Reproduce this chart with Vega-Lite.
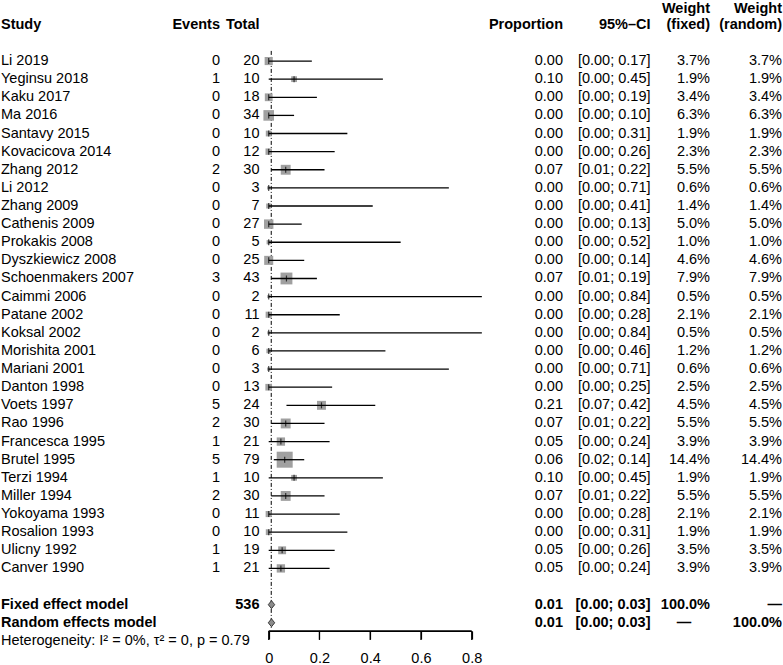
{
  "$schema": "https://vega.github.io/schema/vega-lite/v6.json",
  "width": 783,
  "height": 665,
  "autosize": "none",
  "padding": 0,
  "config": {
    "view": {"stroke": null},
    "axis": {"grid": false, "domain": true, "ticks": true, "domainColor": "black", "tickColor": "black", "domainWidth": 1.2, "tickWidth": 1.2, "tickSize": 8, "labelFont": "Liberation Sans", "labelFontSize": 14.5, "labelColor": "black", "labelFlush": false, "labelPadding": 12, "title": null}
  },
  "datasets": {
    "studies": [
      {"row": "Li 2019", "events": 0, "total": 20, "prop": "0.00", "ci": "[0.00; 0.17]", "wf": "3.7%", "wr": "3.7%", "p": 0.0, "lo": 0.0, "hi": 0.17, "w": 3.7},
      {"row": "Yeginsu 2018", "events": 1, "total": 10, "prop": "0.10", "ci": "[0.00; 0.45]", "wf": "1.9%", "wr": "1.9%", "p": 0.10, "lo": 0.0, "hi": 0.45, "w": 1.9},
      {"row": "Kaku 2017", "events": 0, "total": 18, "prop": "0.00", "ci": "[0.00; 0.19]", "wf": "3.4%", "wr": "3.4%", "p": 0.0, "lo": 0.0, "hi": 0.19, "w": 3.4},
      {"row": "Ma 2016", "events": 0, "total": 34, "prop": "0.00", "ci": "[0.00; 0.10]", "wf": "6.3%", "wr": "6.3%", "p": 0.0, "lo": 0.0, "hi": 0.10, "w": 6.3},
      {"row": "Santavy 2015", "events": 0, "total": 10, "prop": "0.00", "ci": "[0.00; 0.31]", "wf": "1.9%", "wr": "1.9%", "p": 0.0, "lo": 0.0, "hi": 0.31, "w": 1.9},
      {"row": "Kovacicova 2014", "events": 0, "total": 12, "prop": "0.00", "ci": "[0.00; 0.26]", "wf": "2.3%", "wr": "2.3%", "p": 0.0, "lo": 0.0, "hi": 0.26, "w": 2.3},
      {"row": "Zhang 2012", "events": 2, "total": 30, "prop": "0.07", "ci": "[0.01; 0.22]", "wf": "5.5%", "wr": "5.5%", "p": 0.067, "lo": 0.01, "hi": 0.22, "w": 5.5},
      {"row": "Li 2012", "events": 0, "total": 3, "prop": "0.00", "ci": "[0.00; 0.71]", "wf": "0.6%", "wr": "0.6%", "p": 0.0, "lo": 0.0, "hi": 0.71, "w": 0.6},
      {"row": "Zhang 2009", "events": 0, "total": 7, "prop": "0.00", "ci": "[0.00; 0.41]", "wf": "1.4%", "wr": "1.4%", "p": 0.0, "lo": 0.0, "hi": 0.41, "w": 1.4},
      {"row": "Cathenis 2009", "events": 0, "total": 27, "prop": "0.00", "ci": "[0.00; 0.13]", "wf": "5.0%", "wr": "5.0%", "p": 0.0, "lo": 0.0, "hi": 0.13, "w": 5.0},
      {"row": "Prokakis 2008", "events": 0, "total": 5, "prop": "0.00", "ci": "[0.00; 0.52]", "wf": "1.0%", "wr": "1.0%", "p": 0.0, "lo": 0.0, "hi": 0.52, "w": 1.0},
      {"row": "Dyszkiewicz 2008", "events": 0, "total": 25, "prop": "0.00", "ci": "[0.00; 0.14]", "wf": "4.6%", "wr": "4.6%", "p": 0.0, "lo": 0.0, "hi": 0.14, "w": 4.6},
      {"row": "Schoenmakers 2007", "events": 3, "total": 43, "prop": "0.07", "ci": "[0.01; 0.19]", "wf": "7.9%", "wr": "7.9%", "p": 0.07, "lo": 0.01, "hi": 0.19, "w": 7.9},
      {"row": "Caimmi 2006", "events": 0, "total": 2, "prop": "0.00", "ci": "[0.00; 0.84]", "wf": "0.5%", "wr": "0.5%", "p": 0.0, "lo": 0.0, "hi": 0.84, "w": 0.5},
      {"row": "Patane 2002", "events": 0, "total": 11, "prop": "0.00", "ci": "[0.00; 0.28]", "wf": "2.1%", "wr": "2.1%", "p": 0.0, "lo": 0.0, "hi": 0.28, "w": 2.1},
      {"row": "Koksal 2002", "events": 0, "total": 2, "prop": "0.00", "ci": "[0.00; 0.84]", "wf": "0.5%", "wr": "0.5%", "p": 0.0, "lo": 0.0, "hi": 0.84, "w": 0.5},
      {"row": "Morishita 2001", "events": 0, "total": 6, "prop": "0.00", "ci": "[0.00; 0.46]", "wf": "1.2%", "wr": "1.2%", "p": 0.0, "lo": 0.0, "hi": 0.46, "w": 1.2},
      {"row": "Mariani 2001", "events": 0, "total": 3, "prop": "0.00", "ci": "[0.00; 0.71]", "wf": "0.6%", "wr": "0.6%", "p": 0.0, "lo": 0.0, "hi": 0.71, "w": 0.6},
      {"row": "Danton 1998", "events": 0, "total": 13, "prop": "0.00", "ci": "[0.00; 0.25]", "wf": "2.5%", "wr": "2.5%", "p": 0.0, "lo": 0.0, "hi": 0.25, "w": 2.5},
      {"row": "Voets 1997", "events": 5, "total": 24, "prop": "0.21", "ci": "[0.07; 0.42]", "wf": "4.5%", "wr": "4.5%", "p": 0.208, "lo": 0.07, "hi": 0.42, "w": 4.5},
      {"row": "Rao 1996", "events": 2, "total": 30, "prop": "0.07", "ci": "[0.01; 0.22]", "wf": "5.5%", "wr": "5.5%", "p": 0.067, "lo": 0.01, "hi": 0.22, "w": 5.5},
      {"row": "Francesca 1995", "events": 1, "total": 21, "prop": "0.05", "ci": "[0.00; 0.24]", "wf": "3.9%", "wr": "3.9%", "p": 0.048, "lo": 0.0, "hi": 0.24, "w": 3.9},
      {"row": "Brutel 1995", "events": 5, "total": 79, "prop": "0.06", "ci": "[0.02; 0.14]", "wf": "14.4%", "wr": "14.4%", "p": 0.063, "lo": 0.02, "hi": 0.14, "w": 14.4},
      {"row": "Terzi 1994", "events": 1, "total": 10, "prop": "0.10", "ci": "[0.00; 0.45]", "wf": "1.9%", "wr": "1.9%", "p": 0.10, "lo": 0.0, "hi": 0.45, "w": 1.9},
      {"row": "Miller 1994", "events": 2, "total": 30, "prop": "0.07", "ci": "[0.01; 0.22]", "wf": "5.5%", "wr": "5.5%", "p": 0.067, "lo": 0.01, "hi": 0.22, "w": 5.5},
      {"row": "Yokoyama 1993", "events": 0, "total": 11, "prop": "0.00", "ci": "[0.00; 0.28]", "wf": "2.1%", "wr": "2.1%", "p": 0.0, "lo": 0.0, "hi": 0.28, "w": 2.1},
      {"row": "Rosalion 1993", "events": 0, "total": 10, "prop": "0.00", "ci": "[0.00; 0.31]", "wf": "1.9%", "wr": "1.9%", "p": 0.0, "lo": 0.0, "hi": 0.31, "w": 1.9},
      {"row": "Ulicny 1992", "events": 1, "total": 19, "prop": "0.05", "ci": "[0.00; 0.26]", "wf": "3.5%", "wr": "3.5%", "p": 0.053, "lo": 0.0, "hi": 0.26, "w": 3.5},
      {"row": "Canver 1990", "events": 1, "total": 21, "prop": "0.05", "ci": "[0.00; 0.24]", "wf": "3.9%", "wr": "3.9%", "p": 0.048, "lo": 0.0, "hi": 0.24, "w": 3.9}
    ],
    "cells": [
      {"row": "h0", "col": "wf0", "label": "Weight"},
      {"row": "h0", "col": "wr0", "label": "Weight"},
      {"row": "h1", "col": "study", "label": "Study"},
      {"row": "h1", "col": "events", "label": "Events"},
      {"row": "h1", "col": "total", "label": "Total"},
      {"row": "h1", "col": "prop", "label": "Proportion"},
      {"row": "h1", "col": "ci", "label": "95%–CI"},
      {"row": "h1", "col": "wf", "label": "(fixed)"},
      {"row": "h1", "col": "wr", "label": "(random)"},
      {"row": "Fixed effect model", "col": "study", "label": "Fixed effect model"},
      {"row": "Fixed effect model", "col": "total", "label": "536"},
      {"row": "Fixed effect model", "col": "prop", "label": "0.01"},
      {"row": "Fixed effect model", "col": "ci", "label": "[0.00; 0.03]"},
      {"row": "Fixed effect model", "col": "wf", "label": "100.0%"},
      {"row": "Fixed effect model", "col": "wr", "label": "—"},
      {"row": "Random effects model", "col": "study", "label": "Random effects model"},
      {"row": "Random effects model", "col": "prop", "label": "0.01"},
      {"row": "Random effects model", "col": "ci", "label": "[0.00; 0.03]"},
      {"row": "Random effects model", "col": "wfdash", "label": "—"},
      {"row": "Random effects model", "col": "wr", "label": "100.0%"},
      {"row": "het", "col": "het", "label": "Heterogeneity: I² = 0%, τ² = 0, p = 0.79"}
    ],
    "models": [
      {"row": "Fixed effect model", "est": 0.011, "lo": 0.0, "hi": 0.03},
      {"row": "Random effects model", "est": 0.011, "lo": 0.0, "hi": 0.03}
    ],
    "refline": [
      {"top": "gap1", "bottom": "Random effects model", "est": 0.01}
    ],
    "axisline": [
      {"start": 0, "end": 0.8, "row": "het"}
    ],
    "axisticks": [
      {"v": 0, "row": "het"}, {"v": 0.2, "row": "het"}, {"v": 0.4, "row": "het"}, {"v": 0.6, "row": "het"}, {"v": 0.8, "row": "het"}
    ]
  },
  "resolve": {"scale": {"x": "independent"}},
  "layer": [
    {
      "data": {"name": "studies"},
      "mark": {"type": "text", "align": "left", "baseline": "middle", "font": "Liberation Sans", "fontSize": 14.5, "color": "black"},
      "encoding": {
        "x": {"datum": "study", "type": "nominal", "scale": {"type": "point", "domain": ["study"], "range": [1, 1], "padding": 0}, "axis": null},
        "y": {"field": "row", "type": "nominal", "scale": {"type": "point", "domain": ["h0", "h1", "gap1", "Li 2019", "Yeginsu 2018", "Kaku 2017", "Ma 2016", "Santavy 2015", "Kovacicova 2014", "Zhang 2012", "Li 2012", "Zhang 2009", "Cathenis 2009", "Prokakis 2008", "Dyszkiewicz 2008", "Schoenmakers 2007", "Caimmi 2006", "Patane 2002", "Koksal 2002", "Morishita 2001", "Mariani 2001", "Danton 1998", "Voets 1997", "Rao 1996", "Francesca 1995", "Brutel 1995", "Terzi 1994", "Miller 1994", "Yokoyama 1993", "Rosalion 1993", "Ulicny 1992", "Canver 1990", "gap2", "Fixed effect model", "Random effects model", "het"], "range": [6.68, 640.9], "padding": 0}, "axis": null},
        "text": {"field": "row", "type": "nominal"}
      }
    },
    {
      "data": {"name": "cells"},
      "transform": [{"filter": "datum.col == 'het'"}],
      "mark": {"type": "text", "align": "left", "baseline": "middle", "font": "Liberation Sans", "fontSize": 14.5, "color": "black"},
      "encoding": {
        "x": {"datum": "study", "type": "nominal", "scale": {"type": "point", "domain": ["study"], "range": [1, 1], "padding": 0}, "axis": null},
        "y": {"field": "row", "type": "nominal", "scale": {"type": "point", "domain": ["h0", "h1", "gap1", "Li 2019", "Yeginsu 2018", "Kaku 2017", "Ma 2016", "Santavy 2015", "Kovacicova 2014", "Zhang 2012", "Li 2012", "Zhang 2009", "Cathenis 2009", "Prokakis 2008", "Dyszkiewicz 2008", "Schoenmakers 2007", "Caimmi 2006", "Patane 2002", "Koksal 2002", "Morishita 2001", "Mariani 2001", "Danton 1998", "Voets 1997", "Rao 1996", "Francesca 1995", "Brutel 1995", "Terzi 1994", "Miller 1994", "Yokoyama 1993", "Rosalion 1993", "Ulicny 1992", "Canver 1990", "gap2", "Fixed effect model", "Random effects model", "het"], "range": [6.68, 640.9], "padding": 0}, "axis": null},
        "text": {"field": "label", "type": "nominal"}
      }
    },
    {
      "data": {"name": "cells"},
      "transform": [{"filter": "datum.col == 'study'"}],
      "mark": {"type": "text", "align": "left", "baseline": "middle", "font": "Liberation Sans", "fontSize": 14.5, "color": "black", "fontWeight": "bold"},
      "encoding": {
        "x": {"datum": "study", "type": "nominal", "scale": {"type": "point", "domain": ["study"], "range": [1, 1], "padding": 0}, "axis": null},
        "y": {"field": "row", "type": "nominal", "scale": {"type": "point", "domain": ["h0", "h1", "gap1", "Li 2019", "Yeginsu 2018", "Kaku 2017", "Ma 2016", "Santavy 2015", "Kovacicova 2014", "Zhang 2012", "Li 2012", "Zhang 2009", "Cathenis 2009", "Prokakis 2008", "Dyszkiewicz 2008", "Schoenmakers 2007", "Caimmi 2006", "Patane 2002", "Koksal 2002", "Morishita 2001", "Mariani 2001", "Danton 1998", "Voets 1997", "Rao 1996", "Francesca 1995", "Brutel 1995", "Terzi 1994", "Miller 1994", "Yokoyama 1993", "Rosalion 1993", "Ulicny 1992", "Canver 1990", "gap2", "Fixed effect model", "Random effects model", "het"], "range": [6.68, 640.9], "padding": 0}, "axis": null},
        "text": {"field": "label", "type": "nominal"}
      }
    },
    {
      "data": {"name": "studies"},
      "mark": {"type": "text", "align": "right", "baseline": "middle", "font": "Liberation Sans", "fontSize": 14.5, "color": "black"},
      "encoding": {
        "x": {"datum": "events", "type": "nominal", "scale": {"type": "point", "domain": ["events"], "range": [220, 220], "padding": 0}, "axis": null},
        "y": {"field": "row", "type": "nominal", "scale": {"type": "point", "domain": ["h0", "h1", "gap1", "Li 2019", "Yeginsu 2018", "Kaku 2017", "Ma 2016", "Santavy 2015", "Kovacicova 2014", "Zhang 2012", "Li 2012", "Zhang 2009", "Cathenis 2009", "Prokakis 2008", "Dyszkiewicz 2008", "Schoenmakers 2007", "Caimmi 2006", "Patane 2002", "Koksal 2002", "Morishita 2001", "Mariani 2001", "Danton 1998", "Voets 1997", "Rao 1996", "Francesca 1995", "Brutel 1995", "Terzi 1994", "Miller 1994", "Yokoyama 1993", "Rosalion 1993", "Ulicny 1992", "Canver 1990", "gap2", "Fixed effect model", "Random effects model", "het"], "range": [6.68, 640.9], "padding": 0}, "axis": null},
        "text": {"field": "events", "type": "nominal"}
      }
    },
    {
      "data": {"name": "cells"},
      "transform": [{"filter": "datum.col == 'events'"}],
      "mark": {"type": "text", "align": "right", "baseline": "middle", "font": "Liberation Sans", "fontSize": 14.5, "color": "black", "fontWeight": "bold"},
      "encoding": {
        "x": {"datum": "events", "type": "nominal", "scale": {"type": "point", "domain": ["events"], "range": [220, 220], "padding": 0}, "axis": null},
        "y": {"field": "row", "type": "nominal", "scale": {"type": "point", "domain": ["h0", "h1", "gap1", "Li 2019", "Yeginsu 2018", "Kaku 2017", "Ma 2016", "Santavy 2015", "Kovacicova 2014", "Zhang 2012", "Li 2012", "Zhang 2009", "Cathenis 2009", "Prokakis 2008", "Dyszkiewicz 2008", "Schoenmakers 2007", "Caimmi 2006", "Patane 2002", "Koksal 2002", "Morishita 2001", "Mariani 2001", "Danton 1998", "Voets 1997", "Rao 1996", "Francesca 1995", "Brutel 1995", "Terzi 1994", "Miller 1994", "Yokoyama 1993", "Rosalion 1993", "Ulicny 1992", "Canver 1990", "gap2", "Fixed effect model", "Random effects model", "het"], "range": [6.68, 640.9], "padding": 0}, "axis": null},
        "text": {"field": "label", "type": "nominal"}
      }
    },
    {
      "data": {"name": "studies"},
      "mark": {"type": "text", "align": "right", "baseline": "middle", "font": "Liberation Sans", "fontSize": 14.5, "color": "black"},
      "encoding": {
        "x": {"datum": "total", "type": "nominal", "scale": {"type": "point", "domain": ["total"], "range": [259.5, 259.5], "padding": 0}, "axis": null},
        "y": {"field": "row", "type": "nominal", "scale": {"type": "point", "domain": ["h0", "h1", "gap1", "Li 2019", "Yeginsu 2018", "Kaku 2017", "Ma 2016", "Santavy 2015", "Kovacicova 2014", "Zhang 2012", "Li 2012", "Zhang 2009", "Cathenis 2009", "Prokakis 2008", "Dyszkiewicz 2008", "Schoenmakers 2007", "Caimmi 2006", "Patane 2002", "Koksal 2002", "Morishita 2001", "Mariani 2001", "Danton 1998", "Voets 1997", "Rao 1996", "Francesca 1995", "Brutel 1995", "Terzi 1994", "Miller 1994", "Yokoyama 1993", "Rosalion 1993", "Ulicny 1992", "Canver 1990", "gap2", "Fixed effect model", "Random effects model", "het"], "range": [6.68, 640.9], "padding": 0}, "axis": null},
        "text": {"field": "total", "type": "nominal"}
      }
    },
    {
      "data": {"name": "cells"},
      "transform": [{"filter": "datum.col == 'total'"}],
      "mark": {"type": "text", "align": "right", "baseline": "middle", "font": "Liberation Sans", "fontSize": 14.5, "color": "black", "fontWeight": "bold"},
      "encoding": {
        "x": {"datum": "total", "type": "nominal", "scale": {"type": "point", "domain": ["total"], "range": [259.5, 259.5], "padding": 0}, "axis": null},
        "y": {"field": "row", "type": "nominal", "scale": {"type": "point", "domain": ["h0", "h1", "gap1", "Li 2019", "Yeginsu 2018", "Kaku 2017", "Ma 2016", "Santavy 2015", "Kovacicova 2014", "Zhang 2012", "Li 2012", "Zhang 2009", "Cathenis 2009", "Prokakis 2008", "Dyszkiewicz 2008", "Schoenmakers 2007", "Caimmi 2006", "Patane 2002", "Koksal 2002", "Morishita 2001", "Mariani 2001", "Danton 1998", "Voets 1997", "Rao 1996", "Francesca 1995", "Brutel 1995", "Terzi 1994", "Miller 1994", "Yokoyama 1993", "Rosalion 1993", "Ulicny 1992", "Canver 1990", "gap2", "Fixed effect model", "Random effects model", "het"], "range": [6.68, 640.9], "padding": 0}, "axis": null},
        "text": {"field": "label", "type": "nominal"}
      }
    },
    {
      "data": {"name": "studies"},
      "mark": {"type": "text", "align": "right", "baseline": "middle", "font": "Liberation Sans", "fontSize": 14.5, "color": "black"},
      "encoding": {
        "x": {"datum": "prop", "type": "nominal", "scale": {"type": "point", "domain": ["prop"], "range": [563, 563], "padding": 0}, "axis": null},
        "y": {"field": "row", "type": "nominal", "scale": {"type": "point", "domain": ["h0", "h1", "gap1", "Li 2019", "Yeginsu 2018", "Kaku 2017", "Ma 2016", "Santavy 2015", "Kovacicova 2014", "Zhang 2012", "Li 2012", "Zhang 2009", "Cathenis 2009", "Prokakis 2008", "Dyszkiewicz 2008", "Schoenmakers 2007", "Caimmi 2006", "Patane 2002", "Koksal 2002", "Morishita 2001", "Mariani 2001", "Danton 1998", "Voets 1997", "Rao 1996", "Francesca 1995", "Brutel 1995", "Terzi 1994", "Miller 1994", "Yokoyama 1993", "Rosalion 1993", "Ulicny 1992", "Canver 1990", "gap2", "Fixed effect model", "Random effects model", "het"], "range": [6.68, 640.9], "padding": 0}, "axis": null},
        "text": {"field": "prop", "type": "nominal"}
      }
    },
    {
      "data": {"name": "cells"},
      "transform": [{"filter": "datum.col == 'prop'"}],
      "mark": {"type": "text", "align": "right", "baseline": "middle", "font": "Liberation Sans", "fontSize": 14.5, "color": "black", "fontWeight": "bold"},
      "encoding": {
        "x": {"datum": "prop", "type": "nominal", "scale": {"type": "point", "domain": ["prop"], "range": [563, 563], "padding": 0}, "axis": null},
        "y": {"field": "row", "type": "nominal", "scale": {"type": "point", "domain": ["h0", "h1", "gap1", "Li 2019", "Yeginsu 2018", "Kaku 2017", "Ma 2016", "Santavy 2015", "Kovacicova 2014", "Zhang 2012", "Li 2012", "Zhang 2009", "Cathenis 2009", "Prokakis 2008", "Dyszkiewicz 2008", "Schoenmakers 2007", "Caimmi 2006", "Patane 2002", "Koksal 2002", "Morishita 2001", "Mariani 2001", "Danton 1998", "Voets 1997", "Rao 1996", "Francesca 1995", "Brutel 1995", "Terzi 1994", "Miller 1994", "Yokoyama 1993", "Rosalion 1993", "Ulicny 1992", "Canver 1990", "gap2", "Fixed effect model", "Random effects model", "het"], "range": [6.68, 640.9], "padding": 0}, "axis": null},
        "text": {"field": "label", "type": "nominal"}
      }
    },
    {
      "data": {"name": "studies"},
      "mark": {"type": "text", "align": "right", "baseline": "middle", "font": "Liberation Sans", "fontSize": 14.5, "color": "black"},
      "encoding": {
        "x": {"datum": "ci", "type": "nominal", "scale": {"type": "point", "domain": ["ci"], "range": [650.5, 650.5], "padding": 0}, "axis": null},
        "y": {"field": "row", "type": "nominal", "scale": {"type": "point", "domain": ["h0", "h1", "gap1", "Li 2019", "Yeginsu 2018", "Kaku 2017", "Ma 2016", "Santavy 2015", "Kovacicova 2014", "Zhang 2012", "Li 2012", "Zhang 2009", "Cathenis 2009", "Prokakis 2008", "Dyszkiewicz 2008", "Schoenmakers 2007", "Caimmi 2006", "Patane 2002", "Koksal 2002", "Morishita 2001", "Mariani 2001", "Danton 1998", "Voets 1997", "Rao 1996", "Francesca 1995", "Brutel 1995", "Terzi 1994", "Miller 1994", "Yokoyama 1993", "Rosalion 1993", "Ulicny 1992", "Canver 1990", "gap2", "Fixed effect model", "Random effects model", "het"], "range": [6.68, 640.9], "padding": 0}, "axis": null},
        "text": {"field": "ci", "type": "nominal"}
      }
    },
    {
      "data": {"name": "cells"},
      "transform": [{"filter": "datum.col == 'ci'"}],
      "mark": {"type": "text", "align": "right", "baseline": "middle", "font": "Liberation Sans", "fontSize": 14.5, "color": "black", "fontWeight": "bold"},
      "encoding": {
        "x": {"datum": "ci", "type": "nominal", "scale": {"type": "point", "domain": ["ci"], "range": [650.5, 650.5], "padding": 0}, "axis": null},
        "y": {"field": "row", "type": "nominal", "scale": {"type": "point", "domain": ["h0", "h1", "gap1", "Li 2019", "Yeginsu 2018", "Kaku 2017", "Ma 2016", "Santavy 2015", "Kovacicova 2014", "Zhang 2012", "Li 2012", "Zhang 2009", "Cathenis 2009", "Prokakis 2008", "Dyszkiewicz 2008", "Schoenmakers 2007", "Caimmi 2006", "Patane 2002", "Koksal 2002", "Morishita 2001", "Mariani 2001", "Danton 1998", "Voets 1997", "Rao 1996", "Francesca 1995", "Brutel 1995", "Terzi 1994", "Miller 1994", "Yokoyama 1993", "Rosalion 1993", "Ulicny 1992", "Canver 1990", "gap2", "Fixed effect model", "Random effects model", "het"], "range": [6.68, 640.9], "padding": 0}, "axis": null},
        "text": {"field": "label", "type": "nominal"}
      }
    },
    {
      "data": {"name": "studies"},
      "mark": {"type": "text", "align": "right", "baseline": "middle", "font": "Liberation Sans", "fontSize": 14.5, "color": "black"},
      "encoding": {
        "x": {"datum": "wf", "type": "nominal", "scale": {"type": "point", "domain": ["wf"], "range": [710, 710], "padding": 0}, "axis": null},
        "y": {"field": "row", "type": "nominal", "scale": {"type": "point", "domain": ["h0", "h1", "gap1", "Li 2019", "Yeginsu 2018", "Kaku 2017", "Ma 2016", "Santavy 2015", "Kovacicova 2014", "Zhang 2012", "Li 2012", "Zhang 2009", "Cathenis 2009", "Prokakis 2008", "Dyszkiewicz 2008", "Schoenmakers 2007", "Caimmi 2006", "Patane 2002", "Koksal 2002", "Morishita 2001", "Mariani 2001", "Danton 1998", "Voets 1997", "Rao 1996", "Francesca 1995", "Brutel 1995", "Terzi 1994", "Miller 1994", "Yokoyama 1993", "Rosalion 1993", "Ulicny 1992", "Canver 1990", "gap2", "Fixed effect model", "Random effects model", "het"], "range": [6.68, 640.9], "padding": 0}, "axis": null},
        "text": {"field": "wf", "type": "nominal"}
      }
    },
    {
      "data": {"name": "cells"},
      "transform": [{"filter": "datum.col == 'wf'"}],
      "mark": {"type": "text", "align": "right", "baseline": "middle", "font": "Liberation Sans", "fontSize": 14.5, "color": "black", "fontWeight": "bold"},
      "encoding": {
        "x": {"datum": "wf", "type": "nominal", "scale": {"type": "point", "domain": ["wf"], "range": [710, 710], "padding": 0}, "axis": null},
        "y": {"field": "row", "type": "nominal", "scale": {"type": "point", "domain": ["h0", "h1", "gap1", "Li 2019", "Yeginsu 2018", "Kaku 2017", "Ma 2016", "Santavy 2015", "Kovacicova 2014", "Zhang 2012", "Li 2012", "Zhang 2009", "Cathenis 2009", "Prokakis 2008", "Dyszkiewicz 2008", "Schoenmakers 2007", "Caimmi 2006", "Patane 2002", "Koksal 2002", "Morishita 2001", "Mariani 2001", "Danton 1998", "Voets 1997", "Rao 1996", "Francesca 1995", "Brutel 1995", "Terzi 1994", "Miller 1994", "Yokoyama 1993", "Rosalion 1993", "Ulicny 1992", "Canver 1990", "gap2", "Fixed effect model", "Random effects model", "het"], "range": [6.68, 640.9], "padding": 0}, "axis": null},
        "text": {"field": "label", "type": "nominal"}
      }
    },
    {
      "data": {"name": "cells"},
      "transform": [{"filter": "datum.col == 'wf0'"}],
      "mark": {"type": "text", "align": "right", "baseline": "middle", "font": "Liberation Sans", "fontSize": 14.5, "color": "black", "fontWeight": "bold", "yOffset": 2},
      "encoding": {
        "x": {"datum": "wf0", "type": "nominal", "scale": {"type": "point", "domain": ["wf0"], "range": [710, 710], "padding": 0}, "axis": null},
        "y": {"field": "row", "type": "nominal", "scale": {"type": "point", "domain": ["h0", "h1", "gap1", "Li 2019", "Yeginsu 2018", "Kaku 2017", "Ma 2016", "Santavy 2015", "Kovacicova 2014", "Zhang 2012", "Li 2012", "Zhang 2009", "Cathenis 2009", "Prokakis 2008", "Dyszkiewicz 2008", "Schoenmakers 2007", "Caimmi 2006", "Patane 2002", "Koksal 2002", "Morishita 2001", "Mariani 2001", "Danton 1998", "Voets 1997", "Rao 1996", "Francesca 1995", "Brutel 1995", "Terzi 1994", "Miller 1994", "Yokoyama 1993", "Rosalion 1993", "Ulicny 1992", "Canver 1990", "gap2", "Fixed effect model", "Random effects model", "het"], "range": [6.68, 640.9], "padding": 0}, "axis": null},
        "text": {"field": "label", "type": "nominal"}
      }
    },
    {
      "data": {"name": "cells"},
      "transform": [{"filter": "datum.col == 'wfdash'"}],
      "mark": {"type": "text", "align": "center", "baseline": "middle", "font": "Liberation Sans", "fontSize": 14.5, "color": "black", "fontWeight": "bold"},
      "encoding": {
        "x": {"datum": "wfdash", "type": "nominal", "scale": {"type": "point", "domain": ["wfdash"], "range": [684, 684], "padding": 0}, "axis": null},
        "y": {"field": "row", "type": "nominal", "scale": {"type": "point", "domain": ["h0", "h1", "gap1", "Li 2019", "Yeginsu 2018", "Kaku 2017", "Ma 2016", "Santavy 2015", "Kovacicova 2014", "Zhang 2012", "Li 2012", "Zhang 2009", "Cathenis 2009", "Prokakis 2008", "Dyszkiewicz 2008", "Schoenmakers 2007", "Caimmi 2006", "Patane 2002", "Koksal 2002", "Morishita 2001", "Mariani 2001", "Danton 1998", "Voets 1997", "Rao 1996", "Francesca 1995", "Brutel 1995", "Terzi 1994", "Miller 1994", "Yokoyama 1993", "Rosalion 1993", "Ulicny 1992", "Canver 1990", "gap2", "Fixed effect model", "Random effects model", "het"], "range": [6.68, 640.9], "padding": 0}, "axis": null},
        "text": {"field": "label", "type": "nominal"}
      }
    },
    {
      "data": {"name": "studies"},
      "mark": {"type": "text", "align": "right", "baseline": "middle", "font": "Liberation Sans", "fontSize": 14.5, "color": "black"},
      "encoding": {
        "x": {"datum": "wr", "type": "nominal", "scale": {"type": "point", "domain": ["wr"], "range": [782, 782], "padding": 0}, "axis": null},
        "y": {"field": "row", "type": "nominal", "scale": {"type": "point", "domain": ["h0", "h1", "gap1", "Li 2019", "Yeginsu 2018", "Kaku 2017", "Ma 2016", "Santavy 2015", "Kovacicova 2014", "Zhang 2012", "Li 2012", "Zhang 2009", "Cathenis 2009", "Prokakis 2008", "Dyszkiewicz 2008", "Schoenmakers 2007", "Caimmi 2006", "Patane 2002", "Koksal 2002", "Morishita 2001", "Mariani 2001", "Danton 1998", "Voets 1997", "Rao 1996", "Francesca 1995", "Brutel 1995", "Terzi 1994", "Miller 1994", "Yokoyama 1993", "Rosalion 1993", "Ulicny 1992", "Canver 1990", "gap2", "Fixed effect model", "Random effects model", "het"], "range": [6.68, 640.9], "padding": 0}, "axis": null},
        "text": {"field": "wr", "type": "nominal"}
      }
    },
    {
      "data": {"name": "cells"},
      "transform": [{"filter": "datum.col == 'wr'"}],
      "mark": {"type": "text", "align": "right", "baseline": "middle", "font": "Liberation Sans", "fontSize": 14.5, "color": "black", "fontWeight": "bold"},
      "encoding": {
        "x": {"datum": "wr", "type": "nominal", "scale": {"type": "point", "domain": ["wr"], "range": [782, 782], "padding": 0}, "axis": null},
        "y": {"field": "row", "type": "nominal", "scale": {"type": "point", "domain": ["h0", "h1", "gap1", "Li 2019", "Yeginsu 2018", "Kaku 2017", "Ma 2016", "Santavy 2015", "Kovacicova 2014", "Zhang 2012", "Li 2012", "Zhang 2009", "Cathenis 2009", "Prokakis 2008", "Dyszkiewicz 2008", "Schoenmakers 2007", "Caimmi 2006", "Patane 2002", "Koksal 2002", "Morishita 2001", "Mariani 2001", "Danton 1998", "Voets 1997", "Rao 1996", "Francesca 1995", "Brutel 1995", "Terzi 1994", "Miller 1994", "Yokoyama 1993", "Rosalion 1993", "Ulicny 1992", "Canver 1990", "gap2", "Fixed effect model", "Random effects model", "het"], "range": [6.68, 640.9], "padding": 0}, "axis": null},
        "text": {"field": "label", "type": "nominal"}
      }
    },
    {
      "data": {"name": "cells"},
      "transform": [{"filter": "datum.col == 'wr0'"}],
      "mark": {"type": "text", "align": "right", "baseline": "middle", "font": "Liberation Sans", "fontSize": 14.5, "color": "black", "fontWeight": "bold", "yOffset": 2},
      "encoding": {
        "x": {"datum": "wr0", "type": "nominal", "scale": {"type": "point", "domain": ["wr0"], "range": [782, 782], "padding": 0}, "axis": null},
        "y": {"field": "row", "type": "nominal", "scale": {"type": "point", "domain": ["h0", "h1", "gap1", "Li 2019", "Yeginsu 2018", "Kaku 2017", "Ma 2016", "Santavy 2015", "Kovacicova 2014", "Zhang 2012", "Li 2012", "Zhang 2009", "Cathenis 2009", "Prokakis 2008", "Dyszkiewicz 2008", "Schoenmakers 2007", "Caimmi 2006", "Patane 2002", "Koksal 2002", "Morishita 2001", "Mariani 2001", "Danton 1998", "Voets 1997", "Rao 1996", "Francesca 1995", "Brutel 1995", "Terzi 1994", "Miller 1994", "Yokoyama 1993", "Rosalion 1993", "Ulicny 1992", "Canver 1990", "gap2", "Fixed effect model", "Random effects model", "het"], "range": [6.68, 640.9], "padding": 0}, "axis": null},
        "text": {"field": "label", "type": "nominal"}
      }
    },
    {
      "data": {"name": "axisline"},
      "mark": {"type": "rect", "color": "black", "opacity": 1, "yOffset": -10.6, "y2Offset": -9.3},
      "encoding": {
        "x": {"field": "start", "type": "quantitative", "scale": {"domain": [0, 0.8], "range": [268.7, 471.7], "nice": false, "zero": false}, "axis": null},
        "x2": {"field": "end"},
        "y": {"field": "row", "type": "nominal", "scale": {"type": "point", "domain": ["h0", "h1", "gap1", "Li 2019", "Yeginsu 2018", "Kaku 2017", "Ma 2016", "Santavy 2015", "Kovacicova 2014", "Zhang 2012", "Li 2012", "Zhang 2009", "Cathenis 2009", "Prokakis 2008", "Dyszkiewicz 2008", "Schoenmakers 2007", "Caimmi 2006", "Patane 2002", "Koksal 2002", "Morishita 2001", "Mariani 2001", "Danton 1998", "Voets 1997", "Rao 1996", "Francesca 1995", "Brutel 1995", "Terzi 1994", "Miller 1994", "Yokoyama 1993", "Rosalion 1993", "Ulicny 1992", "Canver 1990", "gap2", "Fixed effect model", "Random effects model", "het"], "range": [6.68, 640.9], "padding": 0}, "axis": null},
        "y2": {"field": "row"}
      }
    },
    {
      "data": {"name": "axisticks"},
      "mark": {"type": "tick", "color": "black", "opacity": 1, "orient": "vertical", "size": 9, "thickness": 1.2, "yOffset": -5.5},
      "encoding": {
        "x": {"field": "v", "type": "quantitative", "scale": {"domain": [0, 0.8], "range": [268.7, 471.7], "nice": false, "zero": false}, "axis": null},
        "y": {"field": "row", "type": "nominal", "scale": {"type": "point", "domain": ["h0", "h1", "gap1", "Li 2019", "Yeginsu 2018", "Kaku 2017", "Ma 2016", "Santavy 2015", "Kovacicova 2014", "Zhang 2012", "Li 2012", "Zhang 2009", "Cathenis 2009", "Prokakis 2008", "Dyszkiewicz 2008", "Schoenmakers 2007", "Caimmi 2006", "Patane 2002", "Koksal 2002", "Morishita 2001", "Mariani 2001", "Danton 1998", "Voets 1997", "Rao 1996", "Francesca 1995", "Brutel 1995", "Terzi 1994", "Miller 1994", "Yokoyama 1993", "Rosalion 1993", "Ulicny 1992", "Canver 1990", "gap2", "Fixed effect model", "Random effects model", "het"], "range": [6.68, 640.9], "padding": 0}, "axis": null}
      }
    },
    {
      "layer": [
        {
          "data": {"name": "refline"},
          "mark": {"type": "rule", "color": "black", "strokeWidth": 1, "strokeDash": [4, 2, 1, 2], "yOffset": 8, "y2Offset": 5},
          "encoding": {
            "x": {"field": "est", "type": "quantitative", "scale": {"domain": [0, 0.8], "range": [268.7, 471.7], "nice": false, "zero": false}, "axis": {"values": [0, 0.2, 0.4, 0.6, 0.8], "format": "~g", "title": null, "offset": -34}},
            "y": {"field": "top", "type": "nominal", "scale": {"type": "point", "domain": ["h0", "h1", "gap1", "Li 2019", "Yeginsu 2018", "Kaku 2017", "Ma 2016", "Santavy 2015", "Kovacicova 2014", "Zhang 2012", "Li 2012", "Zhang 2009", "Cathenis 2009", "Prokakis 2008", "Dyszkiewicz 2008", "Schoenmakers 2007", "Caimmi 2006", "Patane 2002", "Koksal 2002", "Morishita 2001", "Mariani 2001", "Danton 1998", "Voets 1997", "Rao 1996", "Francesca 1995", "Brutel 1995", "Terzi 1994", "Miller 1994", "Yokoyama 1993", "Rosalion 1993", "Ulicny 1992", "Canver 1990", "gap2", "Fixed effect model", "Random effects model", "het"], "range": [6.68, 640.9], "padding": 0}, "axis": null},
            "y2": {"field": "bottom"}
          }
        },
        {
          "data": {"name": "studies"},
          "mark": {"type": "point", "shape": "square", "filled": true, "opacity": 1, "color": "#a0a0a0"},
          "encoding": {
            "x": {"field": "p", "type": "quantitative", "scale": {"domain": [0, 0.8], "range": [268.7, 471.7], "nice": false, "zero": false}, "axis": {"values": [0, 0.2, 0.4, 0.6, 0.8], "format": "~g", "title": null, "offset": -34}},
            "y": {"field": "row", "type": "nominal", "scale": {"type": "point", "domain": ["h0", "h1", "gap1", "Li 2019", "Yeginsu 2018", "Kaku 2017", "Ma 2016", "Santavy 2015", "Kovacicova 2014", "Zhang 2012", "Li 2012", "Zhang 2009", "Cathenis 2009", "Prokakis 2008", "Dyszkiewicz 2008", "Schoenmakers 2007", "Caimmi 2006", "Patane 2002", "Koksal 2002", "Morishita 2001", "Mariani 2001", "Danton 1998", "Voets 1997", "Rao 1996", "Francesca 1995", "Brutel 1995", "Terzi 1994", "Miller 1994", "Yokoyama 1993", "Rosalion 1993", "Ulicny 1992", "Canver 1990", "gap2", "Fixed effect model", "Random effects model", "het"], "range": [6.68, 640.9], "padding": 0}, "axis": null},
            "size": {"field": "w", "type": "quantitative", "scale": {"type": "linear", "domain": [0, 14.4], "range": [0, 256], "zero": true}, "legend": null}
          }
        },
        {
          "data": {"name": "studies"},
          "mark": {"type": "rule", "color": "black", "strokeWidth": 1.3},
          "encoding": {
            "x": {"field": "lo", "type": "quantitative", "scale": {"domain": [0, 0.8], "range": [268.7, 471.7], "nice": false, "zero": false}, "axis": {"values": [0, 0.2, 0.4, 0.6, 0.8], "format": "~g", "title": null, "offset": -34}},
            "x2": {"field": "hi"},
            "y": {"field": "row", "type": "nominal", "scale": {"type": "point", "domain": ["h0", "h1", "gap1", "Li 2019", "Yeginsu 2018", "Kaku 2017", "Ma 2016", "Santavy 2015", "Kovacicova 2014", "Zhang 2012", "Li 2012", "Zhang 2009", "Cathenis 2009", "Prokakis 2008", "Dyszkiewicz 2008", "Schoenmakers 2007", "Caimmi 2006", "Patane 2002", "Koksal 2002", "Morishita 2001", "Mariani 2001", "Danton 1998", "Voets 1997", "Rao 1996", "Francesca 1995", "Brutel 1995", "Terzi 1994", "Miller 1994", "Yokoyama 1993", "Rosalion 1993", "Ulicny 1992", "Canver 1990", "gap2", "Fixed effect model", "Random effects model", "het"], "range": [6.68, 640.9], "padding": 0}, "axis": null}
          }
        },
        {
          "data": {"name": "studies"},
          "mark": {"type": "tick", "color": "black", "size": 6, "thickness": 1.2, "orient": "vertical"},
          "encoding": {
            "x": {"field": "p", "type": "quantitative", "scale": {"domain": [0, 0.8], "range": [268.7, 471.7], "nice": false, "zero": false}, "axis": {"values": [0, 0.2, 0.4, 0.6, 0.8], "format": "~g", "title": null, "offset": -34}},
            "y": {"field": "row", "type": "nominal", "scale": {"type": "point", "domain": ["h0", "h1", "gap1", "Li 2019", "Yeginsu 2018", "Kaku 2017", "Ma 2016", "Santavy 2015", "Kovacicova 2014", "Zhang 2012", "Li 2012", "Zhang 2009", "Cathenis 2009", "Prokakis 2008", "Dyszkiewicz 2008", "Schoenmakers 2007", "Caimmi 2006", "Patane 2002", "Koksal 2002", "Morishita 2001", "Mariani 2001", "Danton 1998", "Voets 1997", "Rao 1996", "Francesca 1995", "Brutel 1995", "Terzi 1994", "Miller 1994", "Yokoyama 1993", "Rosalion 1993", "Ulicny 1992", "Canver 1990", "gap2", "Fixed effect model", "Random effects model", "het"], "range": [6.68, 640.9], "padding": 0}, "axis": null}
          }
        },
        {
          "data": {"name": "models"},
          "mark": {"type": "point", "shape": "M-0.8,0L0,-1L0.8,0L0,1Z", "size": 64, "filled": true, "opacity": 1, "fill": "#8c8c8c", "stroke": "#3a3a3a", "strokeWidth": 1},
          "encoding": {
            "x": {"field": "est", "type": "quantitative", "scale": {"domain": [0, 0.8], "range": [268.7, 471.7], "nice": false, "zero": false}, "axis": {"values": [0, 0.2, 0.4, 0.6, 0.8], "format": "~g", "title": null, "offset": -34}},
            "y": {"field": "row", "type": "nominal", "scale": {"type": "point", "domain": ["h0", "h1", "gap1", "Li 2019", "Yeginsu 2018", "Kaku 2017", "Ma 2016", "Santavy 2015", "Kovacicova 2014", "Zhang 2012", "Li 2012", "Zhang 2009", "Cathenis 2009", "Prokakis 2008", "Dyszkiewicz 2008", "Schoenmakers 2007", "Caimmi 2006", "Patane 2002", "Koksal 2002", "Morishita 2001", "Mariani 2001", "Danton 1998", "Voets 1997", "Rao 1996", "Francesca 1995", "Brutel 1995", "Terzi 1994", "Miller 1994", "Yokoyama 1993", "Rosalion 1993", "Ulicny 1992", "Canver 1990", "gap2", "Fixed effect model", "Random effects model", "het"], "range": [6.68, 640.9], "padding": 0}, "axis": null}
          }
        }
      ]
    }
  ]
}
